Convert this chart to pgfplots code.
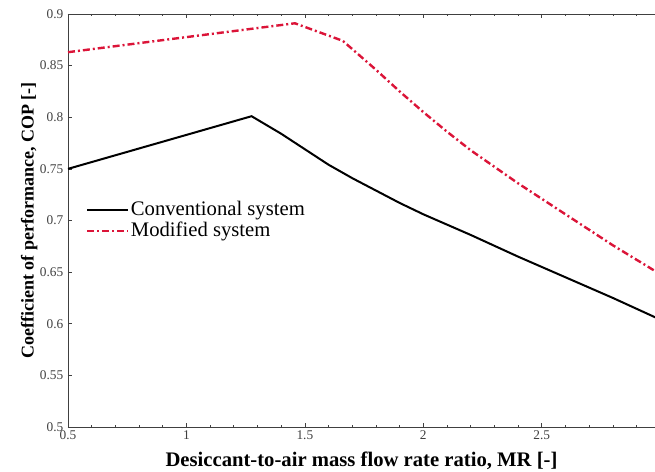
\documentclass[border=0pt]{standalone}
\usepackage{fontspec}
\setmainfont{Liberation Serif}
\usepackage{pgfplots}
\pgfplotsset{compat=1.18}
\usetikzlibrary{calc}
\definecolor{modred}{rgb}{0.86,0.08,0.22}
\begin{document}
\begin{tikzpicture}
\begin{axis}[
  name=ax,
  scale only axis,
  width=440.25pt, height=309.75pt,
  xmin=0.5, xmax=2.978, ymin=0.5, ymax=0.9,
  axis x line*=box, axis y line*=left,
  axis line style={black!75, line width=0.6pt},
  xtick={0.5,1,1.5,2,2.5,3},
  xticklabels={0.5,1,1.5,2,2.5,3},
  ytick={0.5,0.55,...,0.9},
  yticklabels={0.5,0.55,0.6,0.65,0.7,0.75,0.8,0.85,0.9},
  minor x tick num=4,
  tick align=inside,
  major tick length=3pt, minor tick length=1.8pt,
  tick style={black!75, line width=0.5pt},
  ticklabel style={font=\fontsize{10pt}{11pt}\selectfont, text=black!75},
  xticklabel style={yshift=1pt},
  /pgf/number format/assume math mode=true,
  xlabel={\textbf{Desiccant-to-air mass flow rate ratio, MR [-]}},
  ylabel={\textbf{Coefficient of performance, COP [-]}},
  xlabel style={font=\fontsize{15.5pt}{17pt}\selectfont, yshift=-2.5pt},
  ylabel style={font=\fontsize{13.5pt}{15pt}\selectfont, yshift=-5pt},
  legend style={at={(0.03,0.55)}, anchor=north west, draw=none, fill=none,
    font=\fontsize{15.5pt}{17pt}\selectfont, inner sep=0pt, row sep=1.5pt,
    nodes={inner sep=1pt}},
  legend cell align=left,
  legend image code/.code={\draw[#1] (0pt,0pt) -- (31pt,0pt);},
  clip=true,
]
\addplot[black, line width=1.5pt] coordinates {
  (0.5,0.750) (1.275,0.801) (1.4,0.784) (1.5,0.769) (1.6,0.754) (1.7,0.741)
  (1.8,0.729) (1.9,0.717) (2.0,0.706) (2.2,0.686) (2.4,0.665) (2.6,0.645)
  (2.8,0.625) (3.0,0.604)
};
\addlegendentry{Conventional system}
\addplot[modred, line width=1.8pt, dash pattern=on 5.25pt off 2.25pt on 1.5pt off 2.25pt] coordinates {
  (0.5,0.863) (1.458,0.891) (1.66,0.874) (1.8,0.846) (1.9,0.825) (2.0,0.805)
  (2.1,0.786) (2.2,0.768) (2.3,0.752) (2.4,0.736) (2.5,0.721) (2.6,0.706)
  (2.7,0.691) (2.8,0.676) (2.9,0.662) (3.0,0.648)
};
\addlegendentry{Modified system}
\end{axis}
\pgfresetboundingbox
\path[use as bounding box] ($(ax.south west)+(-51pt,-33.75pt)$) rectangle ($(ax.north east)+(0pt,10.5pt)$);
\end{tikzpicture}
\end{document}
